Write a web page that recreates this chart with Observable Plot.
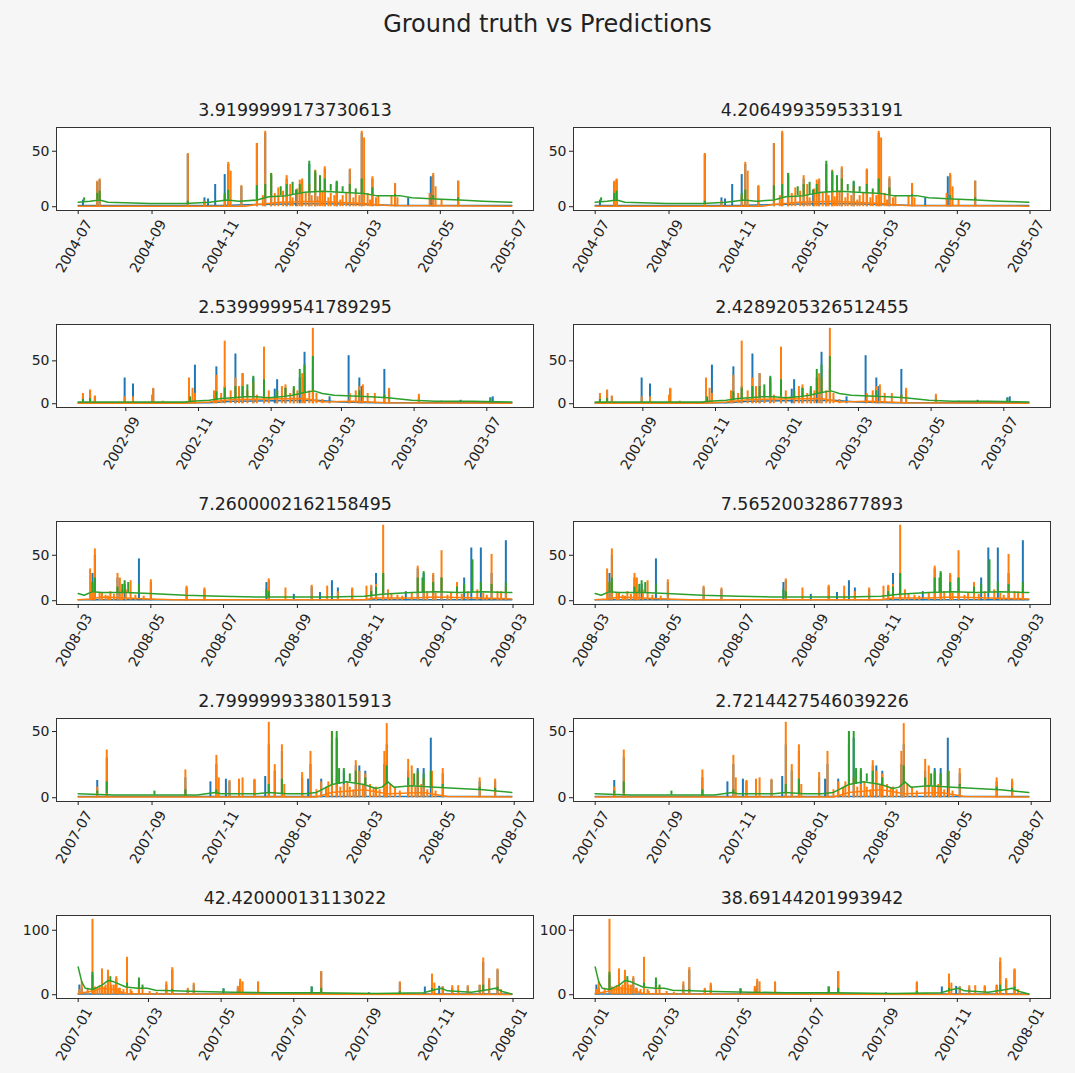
<!DOCTYPE html>
<html><head><meta charset="utf-8">
<script src="https://cdn.jsdelivr.net/npm/d3@7"></script>
<script src="https://cdn.jsdelivr.net/npm/@observablehq/plot@0.6"></script>
<style>
body{margin:0;background:#f6f6f6;font-family:"DejaVu Sans",sans-serif;}
#fig{position:relative;width:1075px;height:1073px;overflow:hidden;}
.sup{position:absolute;top:10px;left:10px;width:1075px;text-align:center;font-size:24px;line-height:28px;color:#222;}
.panel{position:absolute;}
.panel svg{overflow:visible;}
</style></head><body><div id="fig"><div class="sup">Ground truth vs Predictions</div></div>
<script>
// ---------- data ----------
const suptitle = "Ground truth vs Predictions";
const titlesLeft  = ["3.9199999173730613","2.5399999541789295","7.2600002162158495","2.7999999338015913","42.42000013113022"];
const titlesRight = ["4.206499359533191","2.4289205326512455","7.565200328677893","2.7214427546039226","38.69144201993942"];
const starts = ["2004-07-01","2002-07-23","2008-03-01","2007-07-01","2007-01-01"];
const xTicks1 = ["2004-07","2004-09","2004-11","2005-01","2005-03","2005-05","2005-07"];
const xTicks2 = ["2002-09","2002-11","2003-01","2003-03","2003-05","2003-07"];
const xTicks3 = ["2008-03","2008-05","2008-07","2008-09","2008-11","2009-01","2009-03"];
const xTicks4 = ["2007-07","2007-09","2007-11","2008-01","2008-03","2008-05","2008-07"];
const xTicks5 = ["2007-01","2007-03","2007-05","2007-07","2007-09","2007-11","2008-01"];
const yTicks1 = [0,50], yTicks2 = [0,50], yTicks3 = [0,50], yTicks4 = [0,50], yTicks5 = [0,100];

// series: base lines [day, value]; spikes [day, value]; green spikes [day, low, high]
const blueBase1 = [[0,1],[120,1],[150,2],[200,3],[240,2],[270,1],[364,1]];
const blueSpk1 = [[4,6],[16,22],[18,24],[92,47],[106,8],[109,7],[115,20],[123,29],[126,38],[137,18],[150,57],[157,66],[162,28],[175,25],[183,15],[188,23],[194,38],[199,30],[207,34],[217,22],[228,33],[238,66],[247,25],[266,20],[277,8],[296,27],[298,28],[319,23]];
const orangeBase1 = [[0,0.5],[140,0.5],[150,2],[170,4],[200,5],[240,3],[260,1],[364,0.5]];
const orangeSpk1 = [[16,23],[18,25],[92,48],[106,5],[123,10],[126,40],[128,32],[137,19],[150,57],[155,10],[157,68],[162,30],[165,12],[168,17],[172,14],[175,28],[178,20],[180,8],[184,16],[186,24],[188,25],[191,12],[194,20],[196,10],[199,33],[201,9],[203,15],[205,14],[207,36],[210,8],[212,12],[215,10],[217,18],[220,6],[222,10],[225,12],[228,34],[231,8],[233,12],[236,10],[238,68],[240,62],[243,12],[245,6],[247,27],[250,8],[252,10],[263,10],[266,21],[268,8],[295,12],[298,30],[300,18],[305,6],[319,23]];
const greenBase1 = [[0,4],[10,5],[18,6],[25,4],[60,3],[90,3],[110,4],[125,6],[135,5],[150,6],[160,9],[175,10],[190,13],[205,14],[220,13],[240,12],[250,10],[270,10],[280,8],[300,7],[320,6],[340,5],[364,4]];
const greenSpk1 = [[5,5,8],[16,6,12],[18,6,14],[92,3,5],[123,5,12],[126,6,15],[150,6,19],[157,8,20],[162,9,30],[170,10,18],[175,10,20],[180,11,22],[183,12,15],[186,12,20],[194,13,41],[199,13,32],[203,14,28],[207,14,25],[212,14,20],[217,13,23],[222,13,18],[228,13,20],[233,12,16],[238,12,25],[247,11,17],[266,10,11],[298,7,10],[319,6,8]];

const blueBase2 = [[0,1],[110,1],[130,3],[200,4],[220,2],[250,1],[364,1]];
const blueSpk2 = [[4,10],[10,15],[14,8],[39,30],[46,23],[63,17],[93,15],[98,45],[116,43],[123,20],[132,58],[138,35],[147,30],[156,40],[165,17],[167,28],[174,18],[181,15],[186,30],[190,60],[197,40],[211,8],[227,56],[236,30],[238,20],[257,40],[261,15],[286,8],[305,3],[321,4],[346,7],[348,8]];
const orangeBase2 = [[0,0.5],[90,0.5],[110,2],[130,5],[190,6],[205,2],[230,3],[260,1],[364,0.5]];
const orangeSpk2 = [[4,12],[10,16],[14,9],[39,8],[46,8],[62,10],[63,18],[71,3],[93,30],[96,18],[98,12],[114,15],[116,33],[120,12],[123,73],[128,15],[132,30],[135,20],[138,35],[142,15],[147,25],[150,10],[156,66],[160,15],[167,14],[171,20],[174,22],[178,12],[181,18],[184,15],[188,35],[190,30],[194,15],[197,88],[200,12],[205,5],[228,12],[233,15],[236,20],[239,22],[243,12],[249,12],[257,10],[261,18],[286,11]];
const greenBase2 = [[0,2],[30,2],[90,2],[95,3],[110,4],[120,6],[130,7],[140,8],[150,8],[160,7],[170,8],[180,10],[190,13],[198,15],[205,12],[215,10],[230,9],[245,8],[260,7],[280,4],[300,3],[330,3],[364,2]];
const greenSpk2 = [[4,2,5],[10,2,6],[94,2,8],[116,5,14],[123,6,18],[132,7,20],[138,8,20],[142,8,22],[147,8,32],[156,8,28],[167,7,15],[174,8,18],[181,10,20],[186,11,40],[190,13,45],[197,15,55],[236,8,15],[257,7,10],[346,2,6]];

const blueBase3 = [[0,1],[364,1]];
const blueSpk3 = [[12,30],[14,50],[33,25],[39,18],[51,46],[61,20],[91,14],[106,12],[158,20],[160,22],[181,7],[196,15],[203,9],[213,22],[218,14],[230,12],[246,15],[250,30],[256,30],[275,10],[285,35],[290,30],[298,28],[305,25],[324,25],[330,58],[338,58],[347,30],[359,66]];
const orangeBase3 = [[0,1],[10,2],[20,4],[60,2],[80,1],[240,1],[250,3],[280,3],[300,4],[364,2]];
const orangeSpk3 = [[10,35],[12,20],[14,57],[18,8],[20,8],[23,6],[25,5],[27,10],[30,7],[33,30],[35,25],[37,12],[40,12],[44,22],[48,6],[55,5],[61,23],[91,16],[106,14],[160,24],[174,14],[196,17],[209,16],[218,10],[230,14],[242,16],[246,17],[250,18],[256,83],[260,12],[263,8],[268,6],[272,5],[280,8],[285,38],[290,20],[293,10],[298,30],[300,8],[305,55],[310,6],[313,9],[318,20],[322,7],[327,10],[335,12],[340,8],[343,6],[347,51],[352,10],[355,10],[359,15]];
const greenBase3 = [[0,8],[5,6],[12,10],[20,9],[40,9],[60,8],[90,6],[120,5],[150,4],[180,4],[210,4],[240,5],[255,7],[265,8],[280,9],[300,10],[320,9],[340,10],[360,9],[364,9]];
const greenSpk3 = [[12,10,20],[14,10,25],[33,9,15],[37,9,18],[39,9,22],[42,9,20],[51,9,18],[158,4,12],[160,4,10],[246,5,10],[250,5,15],[256,7,30],[285,9,25],[289,9,25],[290,9,32],[298,10,20],[305,10,25],[318,9,15],[324,9,18],[331,9,45],[338,10,20],[347,10,18],[359,9,20]];

const blueBase4 = [[0,1],[364,1]];
const blueSpk4 = [[16,13],[24,30],[90,15],[111,12],[116,25],[124,14],[127,12],[135,12],[148,13],[157,16],[160,40],[165,20],[171,35],[188,15],[193,14],[195,25],[204,14],[213,40],[217,45],[223,20],[233,24],[236,24],[241,20],[257,25],[259,40],[277,20],[285,22],[290,22],[296,45],[306,18],[337,12],[350,12]];
const orangeBase4 = [[0,0.5],[200,0.5],[213,4],[240,6],[260,3],[290,4],[310,1],[364,0.5]];
const orangeSpk4 = [[16,8],[24,36],[90,21],[116,32],[118,15],[127,13],[135,14],[138,15],[148,14],[160,57],[165,25],[171,40],[173,10],[188,19],[195,35],[200,6],[204,12],[208,8],[210,12],[213,50],[217,15],[220,8],[223,10],[226,12],[228,8],[231,6],[233,28],[236,20],[239,10],[241,18],[245,10],[248,7],[250,8],[253,6],[257,35],[259,56],[262,10],[266,8],[270,5],[277,29],[280,24],[283,8],[285,18],[288,10],[290,14],[293,6],[297,20],[300,5],[306,22],[337,15],[350,14]];
const greenBase4 = [[0,3],[30,2],[60,2],[100,2],[115,4],[120,3],[150,3],[160,4],[175,3],[190,3],[200,4],[213,10],[225,12],[240,10],[250,7],[255,8],[260,12],[265,8],[280,9],[300,8],[320,7],[340,6],[364,4]];
const greenSpk4 = [[16,3,5],[24,3,12],[64,2,5],[90,2,6],[116,3,6],[160,4,10],[171,3,14],[213,10,50],[217,10,50],[219,10,22],[223,12,22],[228,12,18],[233,11,20],[241,10,15],[259,10,24],[277,9,15],[282,9,18],[285,9,20],[290,9,18],[296,8,20],[306,8,10],[337,6,8],[350,5,7]];

const blueBase5 = [[0,1],[364,1]];
const blueSpk5 = [[1,15],[3,10],[12,30],[20,35],[25,30],[32,25],[41,55],[51,20],[74,15],[79,38],[92,8],[97,15],[122,9],[134,10],[136,20],[151,18],[196,12],[204,35],[244,3],[270,18],[291,12],[297,30],[303,13],[306,12],[314,10],[327,12],[337,14],[340,50],[345,22],[352,38]];
const orangeBase5 = [[0,2],[10,5],[20,10],[30,8],[40,2],[60,1],[364,0.5]];
const orangeSpk5 = [[1,8],[3,20],[8,10],[12,117],[14,12],[16,10],[18,14],[20,40],[22,12],[23,15],[25,38],[27,20],[28,15],[30,15],[32,28],[34,10],[35,10],[38,8],[41,58],[44,8],[45,5],[51,15],[54,12],[60,5],[66,4],[74,20],[79,42],[92,10],[97,18],[134,13],[136,24],[138,20],[151,20],[204,36],[270,20],[297,32],[299,18],[306,12],[314,14],[319,14],[327,14],[337,15],[340,57],[345,25],[352,40],[355,8]];
const greenBase5 = [[0,43],[3,20],[6,10],[12,8],[20,15],[25,22],[30,20],[40,12],[50,10],[58,10],[65,7],[80,6],[100,5],[130,4],[160,3],[200,3],[250,2],[290,3],[300,8],[305,10],[310,6],[330,4],[345,8],[350,10],[356,5],[364,1]];
const greenSpk5 = [[12,8,35],[27,20,28],[41,12,18],[51,10,26],[54,10,15],[79,6,8],[122,4,9],[196,3,12],[204,3,10],[270,2,5],[297,5,10],[340,5,15],[352,8,12]];

const BLUE = "#1f77b4", ORANGE = "#ff7f0e", GREEN = "#2ca02c";

// ---------- layout ----------
const rows = [
  {start: starts[0], xTicks: xTicks1, yTicks: yTicks1, series: [[blueBase1, blueSpk1, BLUE],[orangeBase1, orangeSpk1, ORANGE],[greenBase1, greenSpk1, GREEN]]},
  {start: starts[1], xTicks: xTicks2, yTicks: yTicks2, series: [[blueBase2, blueSpk2, BLUE],[orangeBase2, orangeSpk2, ORANGE],[greenBase2, greenSpk2, GREEN]]},
  {start: starts[2], xTicks: xTicks3, yTicks: yTicks3, series: [[blueBase3, blueSpk3, BLUE],[orangeBase3, orangeSpk3, ORANGE],[greenBase3, greenSpk3, GREEN]]},
  {start: starts[3], xTicks: xTicks4, yTicks: yTicks4, series: [[blueBase4, blueSpk4, BLUE],[orangeBase4, orangeSpk4, ORANGE],[greenBase4, greenSpk4, GREEN]]},
  {start: starts[4], xTicks: xTicks5, yTicks: yTicks5, series: [[blueBase5, blueSpk5, BLUE],[orangeBase5, orangeSpk5, ORANGE],[greenBase5, greenSpk5, GREEN]]},
];
const frameTops = [127, 324, 521, 718, 915];
const FH = 83, MT = 30, MB = 80;
const cols = [
  {left: 0, width: 540, ml: 56, mr: 7},
  {left: 537, width: 538, ml: 36, mr: 25}
];
const fig = document.getElementById("fig");

rows.forEach((row, r) => {
  const t0 = new Date(row.start + "T00:00:00Z");
  const day = d => new Date(t0.getTime() + d * 864e5);
  const span = 364 * 864e5;
  const xdom = [new Date(t0.getTime() - 0.05 * span), new Date(t0.getTime() + 1.05 * span)];
  let ymax = 0;
  row.series.forEach(([base, spk]) => {
    base.forEach(p => ymax = Math.max(ymax, p[1]));
    spk.forEach(p => ymax = Math.max(ymax, p[p.length - 1]));
  });
  const ydom = [-0.05 * ymax, ymax * 1.05];
  const tickDates = row.xTicks.map(s => new Date(s + "-01T00:00:00Z"));
  [0, 1].forEach(c => {
    const col = cols[c];
    const title = c === 0 ? titlesLeft[r] : titlesRight[r];
    const marks = [Plot.frame({fill: "white", stroke: null})];
    row.series.forEach(([base, spk, color]) => {
      marks.push(Plot.line(base, {x: d => day(d[0]), y: d => d[1], stroke: color, strokeWidth: 1.5}));
      marks.push(Plot.ruleX(spk, {
        x: d => day(d[0]),
        y1: d => d.length === 3 ? d[1] : 0,
        y2: d => d[d.length - 1],
        stroke: color, strokeWidth: 2
      }));
    });
    marks.push(Plot.frame({stroke: "#333", strokeWidth: 1}));
    marks.push(Plot.axisY({ticks: row.yTicks, tickSize: 4, tickPadding: 3, label: null, fontSize: 14}));
    marks.push(Plot.axisX({ticks: tickDates, tickSize: 4, tickFormat: () => "", label: null}));
    marks.push(Plot.text(tickDates, {x: d => d, frameAnchor: "bottom", dy: 38, text: d => d3.utcFormat("%Y-%m")(d), rotate: -60, textAnchor: "middle", fontSize: 14, fill: "#222"}));
    marks.push(Plot.text([title], {frameAnchor: "top", dy: -12, lineAnchor: "bottom", text: d => d, fontSize: 17.4, fill: "#222"}));
    const chart = Plot.plot({
      width: col.width, height: MT + FH + MB,
      marginLeft: col.ml, marginRight: col.mr, marginTop: MT, marginBottom: MB,
      style: {background: "transparent", fontFamily: "DejaVu Sans, sans-serif", fontSize: "14px", color: "#222"},
      x: {type: "utc", domain: xdom, axis: null},
      y: {domain: ydom, axis: null},
      marks
    });
    const div = document.createElement("div");
    div.className = "panel";
    div.style.left = col.left + "px";
    div.style.top = (frameTops[r] - MT) + "px";
    div.appendChild(chart);
    fig.appendChild(div);
  });
});
</script></body></html>
